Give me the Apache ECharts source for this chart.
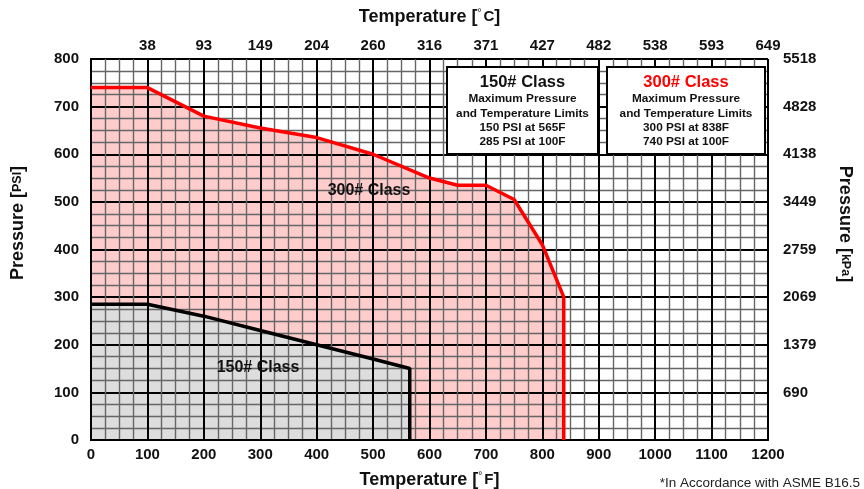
<!DOCTYPE html>
<html>
<head>
<meta charset="utf-8">
<script src="https://cdn.jsdelivr.net/npm/echarts@6/dist/echarts.min.js"></script>
<style>html,body{margin:0;padding:0;background:#fff;}#c{width:864px;height:489px;}</style>
</head>
<body>
<div id="c"></div>
<script>
// ---- data ----
var tempF300 = [0, 100, 200, 300, 400, 500, 600, 650, 700, 750, 800, 838, 838];
var press300 = [740, 740, 680, 655, 635, 600, 550, 535, 535, 505, 410, 300, 0];
var tempF150 = [0, 100, 200, 300, 400, 500, 565, 565];
var press150 = [285, 285, 260, 230, 200, 170, 150, 0];
var celsiusLabels = ['', '38', '93', '149', '204', '260', '316', '371', '427', '482', '538', '593', '649'];
var kpaLabels = ['', '690', '1379', '2069', '2759', '3449', '4138', '4828', '5518'];
var box150Lines = ['150# Class', 'Maximum Pressure', 'and Temperature Limits', '150 PSI at 565F', '285 PSI at 100F'];
var box300Lines = ['300# Class', 'Maximum Pressure', 'and Temperature Limits', '300 PSI at 838F', '740 PSI at 100F'];
var footnote = '*In Accordance with ASME B16.5';

function pairs(xs, ys) { return xs.map(function (x, i) { return [x, ys[i]]; }); }

var FONT = '"Liberation Sans", Arial, sans-serif';
var chart = echarts.init(document.getElementById('c'), null, { renderer: 'canvas' });

var majorLine = { show: true, lineStyle: { color: '#000', width: 2 } };
var minorLine = { show: true, lineStyle: { color: '#666', width: 1.4 } };
var lab = { color: '#111', fontWeight: 'bold', fontSize: 15, fontFamily: FONT };

function boxText(lines) {
  return '{t|' + lines[0] + '}\n' + lines.slice(1).map(function (l) { return '{s|' + l + '}'; }).join('\n');
}
function richBox(titleColor) {
  return {
    t: { fontSize: 16.5, fontWeight: 'bold', fontFamily: FONT, fill: titleColor, lineHeight: 20, align: 'center' },
    s: { fontSize: 11.8, fontWeight: 'bold', fontFamily: FONT, fill: '#111', lineHeight: 14.2, align: 'center' }
  };
}
var titleRich = {
  a: { fontSize: 18, fontWeight: 'bold', fontFamily: FONT, color: '#111' },
  b: { fontSize: 15, fontWeight: 'bold', fontFamily: FONT, color: '#111' },
  d: { fontSize: 10, fontFamily: FONT, color: '#111', verticalAlign: 'top', padding: [0, 2, 7, 0] }
};
var yTitleRich = {
  a: { fontSize: 18, fontWeight: 'bold', fontFamily: FONT, fill: '#111' },
  b: { fontSize: 12.5, fontWeight: 'bold', fontFamily: FONT, fill: '#111' }
};

var option = {
  animation: false,
  backgroundColor: '#fff',
  grid: { left: 91, right: 96, top: 59, bottom: 49, show: false, containLabel: false, outerBoundsMode: 'none' },
  xAxis: [{
    type: 'value', min: 0, max: 1200, interval: 100, position: 'bottom', z: 3,
    name: '{a|Temperature [}{d|°}{b|F}{a|]}', nameLocation: 'middle', nameGap: 31,
    nameTextStyle: { rich: titleRich },
    axisLine: { show: true, lineStyle: { color: '#000', width: 2 } },
    axisTick: { show: false },
    axisLabel: Object.assign({ margin: 7, formatter: function (v) { return String(v); } }, lab),
    splitLine: majorLine,
    minorTick: { show: false, splitNumber: 4 },
    minorSplitLine: minorLine
  }, {
    type: 'value', min: 0, max: 1200, interval: 100, position: 'top', z: 3,
    name: '{a|Temperature [}{d|°}{b|C}{a|]}', nameLocation: 'middle', nameGap: 33,
    nameTextStyle: { rich: titleRich },
    axisLine: { show: true, lineStyle: { color: '#000', width: 2 } },
    axisTick: { show: false },
    axisLabel: Object.assign({ margin: 6, formatter: function (v) { return celsiusLabels[Math.round(v / 100)] || ''; } }, lab),
    splitLine: { show: false }
  }],
  yAxis: [{
    type: 'value', min: 0, max: 800, interval: 100, position: 'left', z: 3,
    axisLine: { show: true, lineStyle: { color: '#000', width: 2 } },
    axisTick: { show: false },
    axisLabel: Object.assign({ margin: 12, formatter: function (v) { return String(v); } }, lab),
    splitLine: majorLine,
    minorTick: { show: false, splitNumber: 4 },
    minorSplitLine: minorLine
  }, {
    type: 'value', min: 0, max: 800, interval: 100, position: 'right', z: 3,
    axisLine: { show: true, lineStyle: { color: '#000', width: 2 } },
    axisTick: { show: false },
    axisLabel: Object.assign({ margin: 15, align: 'left', formatter: function (v) { return kpaLabels[Math.round(v / 100)] || ''; } }, lab),
    splitLine: { show: false }
  }],
  series: [{
    name: '300# fill', type: 'line', z: 1, silent: true, symbol: 'none',
    data: pairs(tempF300, press300),
    lineStyle: { width: 0 }, areaStyle: { color: '#FFCCCC', opacity: 1 }
  }, {
    name: '150# fill', type: 'line', z: 1, silent: true, symbol: 'none',
    data: pairs(tempF150, press150),
    lineStyle: { width: 0 }, areaStyle: { color: '#DDDDDD', opacity: 1 }
  }, {
    name: '300# Class', type: 'line', z: 5, silent: true, symbol: 'none',
    data: pairs(tempF300, press300),
    lineStyle: { color: '#FF0000', width: 3.5 }
  }, {
    name: '150# Class', type: 'line', z: 5, silent: true, symbol: 'none',
    data: pairs(tempF150, press150),
    lineStyle: { color: '#000', width: 3.5 }
  }],
  graphic: [
    { type: 'text', z: 10, x: 369, y: 191, style: { text: '300# Class', font: 'bold 16px ' + FONT, fill: '#111', align: 'center', verticalAlign: 'middle' } },
    { type: 'text', z: 10, x: 258, y: 368, style: { text: '150# Class', font: 'bold 16px ' + FONT, fill: '#111', align: 'center', verticalAlign: 'middle' } },
    { type: 'text', z: 10, x: 18, y: 223, rotation: Math.PI / 2,
      style: { text: '{a|Pressure [}{b|PSI}{a|]}', rich: yTitleRich, align: 'center', verticalAlign: 'middle' } },
    { type: 'text', z: 10, x: 845, y: 224, rotation: -Math.PI / 2,
      style: { text: '{a|Pressure [}{b|kPa}{a|]}', rich: yTitleRich, align: 'center', verticalAlign: 'middle' } },
    { type: 'rect', z: 10, shape: { x: 447, y: 67, width: 151, height: 87 }, style: { fill: '#fff', stroke: '#000', lineWidth: 2 } },
    { type: 'text', z: 11, x: 522.5, y: 72, style: { text: boxText(box150Lines), rich: richBox('#111'), align: 'center', verticalAlign: 'top' } },
    { type: 'rect', z: 10, shape: { x: 607, y: 67, width: 158, height: 87 }, style: { fill: '#fff', stroke: '#000', lineWidth: 2 } },
    { type: 'text', z: 11, x: 686, y: 72, style: { text: boxText(box300Lines), rich: richBox('#FF0000'), align: 'center', verticalAlign: 'top' } },
    { type: 'text', z: 10, right: 4, top: 476, style: { text: footnote, font: '13.5px "Liberation Sans", Arial, sans-serif', fill: '#222' } }
  ]
};
chart.setOption(option);
</script>
</body>
</html>
